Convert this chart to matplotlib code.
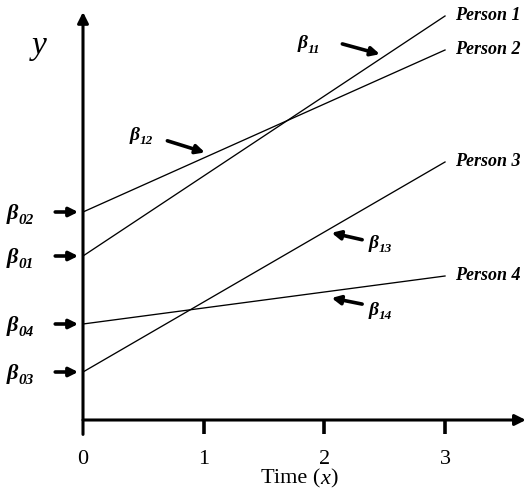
import matplotlib
matplotlib.use("Agg")
import matplotlib.pyplot as plt
from matplotlib.transforms import offset_copy
import numpy as np

# Data
persons = ["Person 1", "Person 2", "Person 3", "Person 4"]
intercepts = [4.1, 5.2, 1.2, 2.4]
slopes = [2.0, 1.35, 1.75, 0.4]
intercept_labels = ["01", "02", "03", "04"]
slope_labels = ["11", "12", "13", "14"]
slope_label_x = [2.46, 1.01, 2.06, 2.06]
xticks = [0, 1, 2, 3]
x_end = 3

SERIF = ["Liberation Serif", "DejaVu Serif"]

fig = plt.figure(figsize=(5.28, 4.97), dpi=100)
ax = fig.add_axes([0, 0, 1, 1])
ax.set_xlim(-83 / 120.67, (528 - 83) / 120.67)
ax.set_ylim((420 - 497) / 40, 420 / 40)
ax.axis("off")

# axes with arrows
ax.annotate("", xy=(0, 10.2), xytext=(0, -0.36),
            arrowprops=dict(arrowstyle="-|>", lw=2.2, color="k",
                            mutation_scale=16, shrinkA=0, shrinkB=0))
ax.annotate("", xy=(3.67, 0), xytext=(0, 0),
            arrowprops=dict(arrowstyle="-|>", lw=2.2, color="k",
                            mutation_scale=16, shrinkA=0, shrinkB=0))
for t in xticks:
    if t != 0:
        ax.plot([t, t], [0, -0.36], color="k", lw=2.6, solid_capstyle="butt")
    ax.text(t, -1.0, str(t), ha="center", va="center", fontsize=16,
            family=SERIF)

ax.text(1.97, -1.48, "Time (", ha="right", va="center", fontsize=16, family=SERIF)
ax.text(1.97, -1.48, "x", ha="left", va="center", fontsize=16, family=SERIF,
        style="italic")
ax.text(2.045, -1.48, ")", ha="left", va="center", fontsize=16, family=SERIF)
ax.text(-0.36, 9.35, "y", ha="center", va="center", fontsize=24, family=SERIF,
        style="italic")

xs = np.array([0, x_end])
for name, b0, b1 in zip(persons, intercepts, slopes):
    ys = b0 + b1 * xs
    ax.plot(xs, ys, color="k", lw=0.95)
    ax.annotate(name, xy=(x_end, ys[-1]), xytext=(7, 0),
                textcoords="offset points", ha="left", va="center",
                fontsize=13, fontweight="bold", style="italic", family=SERIF)


arrow_kw = dict(arrowstyle="-|>", lw=2.6, color="k", mutation_scale=13,
                shrinkA=0, shrinkB=0)

# intercept labels
for b0, lab in zip(intercepts, intercept_labels):
    ax.annotate("", xy=(-0.04, b0), xytext=(-0.23, b0), arrowprops=arrow_kw)
    t = ax.text(-0.63, b0 - 0.05, "β", ha="left", va="center", fontsize=16,
                fontweight="bold", style="italic", family=SERIF)
    ax.annotate(lab, xy=(1, 0.18), xycoords=t, ha="left", va="center",
                fontsize=11, fontweight="bold", style="italic", family=SERIF)

# slope labels (offsets in points relative to the point on the line)
head_off = [(0, 3.6), (0, 3.6), (0, -3.6), (0, -5)]
tail_off = [(-27, 11), (-27, 12), (22, -8.6), (22, -9.4)]
label_off = [(-59, 11), (-54, 16), (27, -11), (27, -14)]
for i, lab in enumerate(slope_labels):
    xl = slope_label_x[i]
    yl = intercepts[i] + slopes[i] * xl
    htr = offset_copy(ax.transData, fig=fig, x=head_off[i][0],
                      y=head_off[i][1], units="points")
    ttr = offset_copy(ax.transData, fig=fig, x=tail_off[i][0],
                      y=tail_off[i][1], units="points")
    ax.annotate("", xy=(xl, yl), xycoords=htr, xytext=(xl, yl),
                textcoords=ttr, arrowprops=arrow_kw)
    t = ax.annotate("β", xy=(xl, yl), xytext=label_off[i],
                    textcoords="offset points", ha="left", va="center",
                    fontsize=14, fontweight="bold", style="italic",
                    family=SERIF)
    ax.annotate(lab, xy=(1, 0.15), xycoords=t, ha="left", va="center",
                fontsize=9.5, fontweight="bold", style="italic", family=SERIF)

fig.savefig("out.png", dpi=100)
